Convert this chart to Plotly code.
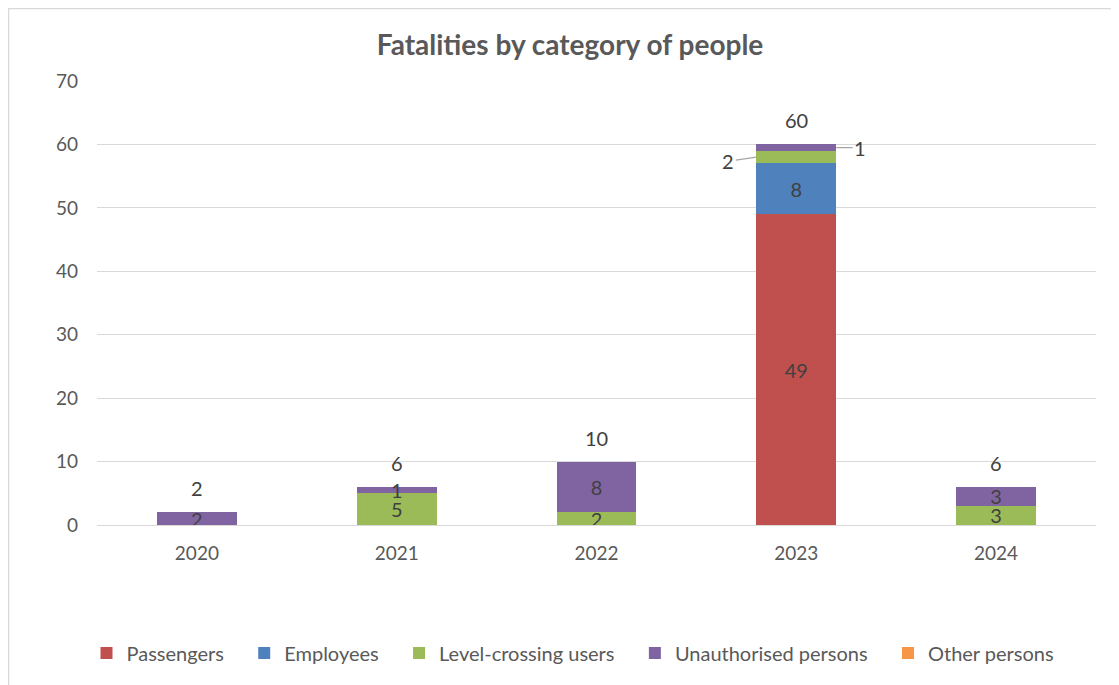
import plotly.graph_objects as go

years = ["2020", "2021", "2022", "2023", "2024"]
passengers = [0, 0, 0, 49, 0]
employees = [0, 0, 0, 8, 0]
level_crossing = [0, 5, 2, 2, 3]
unauthorised = [2, 1, 8, 1, 3]
other = [0, 0, 0, 0, 0]

series = [
    ("Passengers", passengers, "#C0504D"),
    ("Employees", employees, "#4F81BD"),
    ("Level-crossing users", level_crossing, "#9BBB59"),
    ("Unauthorised persons", unauthorised, "#8064A2"),
    ("Other persons", other, "#F79646"),
]

FONT = "Lato"
LABEL_COLOR = "#404040"
AXIS_COLOR = "#595959"
LABEL_SIZE = 20
TICK_SIZE = 19
BAR_W = 0.4
LEGEND_PAD = "\u00a0" * 3

xpos = list(range(len(years)))

# Segments labelled outside with leader lines (year index, series name) -> side
outside = {(3, "Level-crossing users"): "left", (3, "Unauthorised persons"): "right"}

fig = go.Figure()
for k, (name, vals, color) in enumerate(series):
    texts = []
    for i, v in enumerate(vals):
        if v == 0 or (i, name) in outside:
            texts.append("")
        else:
            texts.append(str(v))
    fig.add_trace(go.Bar(
        name=name + (LEGEND_PAD if k < len(series) - 1 else ""), x=xpos, y=vals, width=BAR_W,
        marker=dict(color=color, line=dict(width=0)),
        text=texts, textposition="inside", insidetextanchor="middle", textangle=0,
        constraintext="none",
        textfont=dict(family=FONT, size=LABEL_SIZE, color=LABEL_COLOR),
        hoverinfo="skip",
    ))

annotations = []
totals = [sum(s[1][i] for s in series) for i in range(len(years))]
for i, t in enumerate(totals):
    annotations.append(dict(x=xpos[i], y=t, xref="x", yref="y", text=str(t), showarrow=False,
                            yanchor="bottom", yshift=10,
                            font=dict(family=FONT, size=LABEL_SIZE, color=LABEL_COLOR)))

names = [s[0] for s in series]
for (i, name), side in outside.items():
    idx = names.index(name)
    base = sum(series[k][1][i] for k in range(idx))
    v = series[idx][1][i]
    mid = base + v / 2
    if side == "left":
        annotations.append(dict(x=xpos[i] - BAR_W / 2, y=mid, xref="x", yref="y", text=str(v),
                                showarrow=True, arrowhead=0, arrowwidth=1.2, arrowcolor="#A6A6A6",
                                standoff=0, ax=-28, ay=4,
                                font=dict(family=FONT, size=LABEL_SIZE, color=LABEL_COLOR)))
    else:
        annotations.append(dict(x=xpos[i] + BAR_W / 2, y=mid, xref="x", yref="y", text=str(v),
                                showarrow=True, arrowhead=0, arrowwidth=1.2, arrowcolor="#A6A6A6",
                                standoff=0, ax=24, ay=0,
                                font=dict(family=FONT, size=LABEL_SIZE, color=LABEL_COLOR)))

# page body adds an 8px offset; figure sized to fit the window
OFF = 8
W, H = 1119 - OFF, 685 - OFF
L, R, T, B = 97 - OFF, 23, 81 - OFF, 160
pw, ph = W - L - R, H - T - B


def px_x(p):
    return (p - OFF - L) / pw


def px_y(p):
    return 1 - (p - OFF - T) / ph


fig.update_layout(
    width=W, height=H,
    margin=dict(l=L, r=R, t=T, b=B),
    barmode="stack",
    plot_bgcolor="white", paper_bgcolor="white",
    title=dict(text="<b>Fatalities by category of people</b>", xref="container",
               x=(570 - OFF) / W, xanchor="center",
               yref="container", y=1 - (45 - OFF) / H, yanchor="middle",
               font=dict(family=FONT, size=28, color=AXIS_COLOR)),
    font=dict(family=FONT, size=LABEL_SIZE, color=AXIS_COLOR),
    xaxis=dict(range=[-0.5, len(years) - 0.5], tickvals=xpos, ticktext=years,
               showgrid=False, showline=False, zeroline=False, ticks="",
               tickfont=dict(family=FONT, size=TICK_SIZE, color=AXIS_COLOR), ticklabelstandoff=15),
    yaxis=dict(range=[0, 70], dtick=10, showgrid=True, gridcolor="#D9D9D9", gridwidth=1.3,
               zeroline=True, zerolinecolor="#D9D9D9", zerolinewidth=1.3, showline=False, ticks="",
               tickfont=dict(family=FONT, size=TICK_SIZE, color=AXIS_COLOR), ticklabelstandoff=18),
    legend=dict(orientation="h", x=px_x(573), xanchor="center", y=px_y(653), yanchor="middle",
                font=dict(family=FONT, size=20, color=AXIS_COLOR), traceorder="normal"),
    annotations=annotations,
    shapes=[dict(type="rect", xref="paper", yref="paper", x0=px_x(8.5), x1=px_x(1130),
                 y0=px_y(700), y1=px_y(8.5), line=dict(color="#D9D9D9", width=1.5),
                 fillcolor="rgba(0,0,0,0)", layer="below")],
)
fig.write_html("out.html")
